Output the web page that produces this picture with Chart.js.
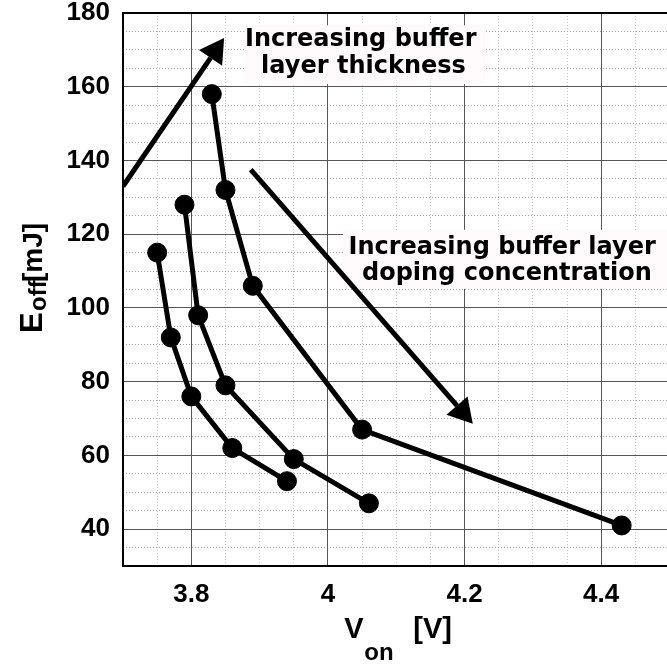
<!DOCTYPE html>
<html>
<head>
<meta charset="utf-8">
<script src="https://cdn.jsdelivr.net/npm/chart.js@4/dist/chart.umd.min.js"></script>
<style>
  html, body { margin: 0; padding: 0; background: #fff; overflow: hidden; }
  #wrap { position: relative; width: 680px; height: 666px; }
</style>
</head>
<body>
<div id="wrap"><canvas id="chart" width="680" height="666"></canvas></div>
<script>
(function () {
  'use strict';

  // axis ticks
  var X_TICKS = [3.8, 4, 4.2, 4.4];
  var X_TICK_LABELS = ['3.8', '4', '4.2', '4.4'];
  var Y_TICKS = [40, 60, 80, 100, 120, 140, 160, 180];
  var Y_TICK_LABELS = ['40', '60', '80', '100', '120', '140', '160', '180'];

  // three buffer designs, each swept over doping concentration
  var VON_A = [3.83, 3.85, 3.89, 4.05, 4.43];
  var EOFF_A = [158, 132, 106, 67, 41];
  var VON_B = [3.79, 3.81, 3.85, 3.95, 4.06];
  var EOFF_B = [128, 98, 79, 59, 47];
  var VON_C = [3.75, 3.77, 3.80, 3.86, 3.94];
  var EOFF_C = [115, 92, 76, 62, 53];

  // trend arrows, [V, mJ]
  var ARROW_START = [[3.7, 133], [3.887, 137.5]];
  var ARROW_END = [[3.848, 173.2], [4.212, 68.6]];

  // note boxes [x0, x1, yTop, yBottom] and their text lines
  var NOTE_BOXES = [[3.877, 4.230, 176.7, 160.7], [4.022, 4.6, 121.2, 105.2]];
  var NOTE_LINES = [
    ['Increasing buffer', 'layer thickness'],
    ['Increasing buffer layer', 'doping concentration']
  ];
  var NOTE_LINE_POS = [
    [[4.048, 171.0], [4.052, 163.6]],
    [[4.255, 114.5], [4.262, 107.7]]
  ];

  var TICK_FONT = { family: '"Liberation Sans", Arial, sans-serif', size: 26, weight: 'bold', lineHeight: 1 };
  var NOTE_FONT = 'bold 24px "DejaVu Sans", Verdana, sans-serif';
  var SANS = '"Liberation Sans", Arial, sans-serif';

  function toPoints(xs, ys) {
    return xs.map(function (x, i) { return { x: x, y: ys[i] }; });
  }

  function series(xs, ys) {
    return {
      data: toPoints(xs, ys),
      showLine: true,
      borderColor: '#000',
      borderWidth: 5,
      pointRadius: 9.5,
      pointBorderWidth: 1,
      pointBackgroundColor: '#000',
      pointBorderColor: '#000'
    };
  }

  function drawArrow(ctx, x0, y0, x1, y1) {
    var ang = Math.atan2(y1 - y0, x1 - x0);
    var len = 24, half = 14;
    var bx = x1 - len * Math.cos(ang);
    var by = y1 - len * Math.sin(ang);
    ctx.beginPath();
    ctx.moveTo(x0, y0);
    ctx.lineTo(bx, by);
    ctx.lineWidth = 5;
    ctx.stroke();
    ctx.beginPath();
    ctx.moveTo(x1, y1);
    ctx.lineTo(bx + half * Math.sin(ang), by - half * Math.cos(ang));
    ctx.lineTo(bx - half * Math.sin(ang), by + half * Math.cos(ang));
    ctx.closePath();
    ctx.fill();
  }

  // draws runs of text with subscripts: [text, size, baselineShift, offset]
  function drawRuns(ctx, runs) {
    for (var i = 0; i < runs.length; i++) {
      var r = runs[i];
      ctx.font = 'bold ' + r[1] + 'px ' + SANS;
      ctx.fillText(r[0], r[3], r[2]);
    }
  }

  var notesPlugin = {
    id: 'notes',
    beforeDatasetsDraw: function (chart) {
      var ctx = chart.ctx, xs = chart.scales.x, ys = chart.scales.y, a = chart.chartArea;
      ctx.save();
      ctx.beginPath();
      ctx.rect(a.left, a.top, a.right - a.left, a.bottom - a.top);
      ctx.clip();
      ctx.fillStyle = '#fffbfc';
      NOTE_BOXES.forEach(function (b) {
        var x0 = xs.getPixelForValue(b[0]), x1 = xs.getPixelForValue(b[1]);
        var y0 = ys.getPixelForValue(b[2]), y1 = ys.getPixelForValue(b[3]);
        ctx.fillRect(x0, y0, x1 - x0, y1 - y0);
      });
      ctx.restore();
    },
    afterDatasetsDraw: function (chart) {
      var ctx = chart.ctx, xs = chart.scales.x, ys = chart.scales.y, a = chart.chartArea;
      ctx.save();
      ctx.beginPath();
      ctx.rect(a.left, a.top, a.right - a.left, a.bottom - a.top);
      ctx.clip();
      ctx.fillStyle = '#000';
      ctx.strokeStyle = '#000';
      for (var i = 0; i < ARROW_START.length; i++) {
        drawArrow(ctx,
          xs.getPixelForValue(ARROW_START[i][0]), ys.getPixelForValue(ARROW_START[i][1]),
          xs.getPixelForValue(ARROW_END[i][0]), ys.getPixelForValue(ARROW_END[i][1]));
      }
      ctx.font = NOTE_FONT;
      ctx.textAlign = 'center';
      ctx.textBaseline = 'alphabetic';
      NOTE_LINES.forEach(function (lines, n) {
        lines.forEach(function (t, k) {
          var p = NOTE_LINE_POS[n][k];
          ctx.fillText(t, xs.getPixelForValue(p[0]), ys.getPixelForValue(p[1]));
        });
      });
      ctx.restore();
    },
    afterDraw: function (chart) {
      var ctx = chart.ctx, a = chart.chartArea;
      ctx.save();
      ctx.fillStyle = '#000';
      ctx.textAlign = 'left';
      ctx.textBaseline = 'alphabetic';

      // x title: V_on [V]
      ctx.save();
      ctx.translate((a.left + a.right) / 2 - 52, a.bottom + 72);
      drawRuns(ctx, [['V', 29, 0, 0], ['on', 24, 22, 20], ['[V]', 29, 0, 69]]);
      ctx.restore();

      // y title: E_off[mJ]
      ctx.save();
      ctx.translate(42, 333);
      ctx.rotate(-Math.PI / 2);
      drawRuns(ctx, [['E', 31, 0, 0], ['off', 24, 4, 22], ['[mJ]', 28, 0, 51]]);
      ctx.restore();

      ctx.restore();
    }
  };

  function majorTicks(values) {
    return function (scale) {
      scale.ticks = values.map(function (v) { return { value: v }; });
    };
  }

  // keep the plot frame fixed regardless of label overhang
  function noOverhang(s) {
    s.paddingTop = 0;
    s.paddingBottom = 0;
    s.paddingLeft = 0;
    s.paddingRight = 0;
  }

  new Chart(document.getElementById('chart'), {
    type: 'scatter',
    data: {
      datasets: [series(VON_A, EOFF_A), series(VON_B, EOFF_B), series(VON_C, EOFF_C)]
    },
    options: {
      responsive: false,
      animation: false,
      layout: { padding: { left: 0, top: 13, right: 4.5, bottom: 0 } },
      plugins: { legend: { display: false }, tooltip: { enabled: false } },
      scales: {
        xMinor: {
          type: 'linear', position: 'bottom', min: 3.7, max: 4.5, z: -1,
          ticks: { display: false, stepSize: 0.05 },
          grid: { color: '#c4c4c4', lineWidth: 1, drawTicks: false },
          border: { display: false, dash: [1, 2] },
          afterFit: function (s) { s.height = 0; noOverhang(s); }
        },
        yMinor: {
          type: 'linear', position: 'left', min: 30, max: 180, z: -1,
          ticks: { display: false, stepSize: 5 },
          grid: { color: '#a0a0a0', lineWidth: 1, drawTicks: false },
          border: { display: false, dash: [1, 2] },
          afterFit: function (s) { s.width = 0; noOverhang(s); }
        },
        x: {
          type: 'linear', position: 'bottom', min: 3.7, max: 4.5,
          afterBuildTicks: majorTicks(X_TICKS),
          afterFit: function (s) { s.height = 100; noOverhang(s); },
          ticks: {
            color: '#000', font: TICK_FONT, padding: 16, maxRotation: 0,
            callback: function (v) { return X_TICK_LABELS[X_TICKS.indexOf(v)]; }
          },
          grid: { color: '#555', lineWidth: 1, drawTicks: false },
          border: { display: true, color: '#000', width: 2 }
        },
        y: {
          type: 'linear', position: 'left', min: 30, max: 180,
          afterBuildTicks: majorTicks(Y_TICKS),
          afterFit: function (s) { s.width = 123; noOverhang(s); },
          ticks: {
            color: '#000', font: TICK_FONT, padding: 13,
            callback: function (v) { return Y_TICK_LABELS[Y_TICKS.indexOf(v)]; }
          },
          grid: {
            color: function (c) { return c.tick && c.tick.value === 180 ? '#000' : '#555'; },
            lineWidth: function (c) { return c.tick && c.tick.value === 180 ? 2 : 1; },
            drawTicks: false
          },
          border: { display: true, color: '#000', width: 2 }
        }
      }
    },
    plugins: [notesPlugin]
  });
})();
</script>
</body>
</html>
